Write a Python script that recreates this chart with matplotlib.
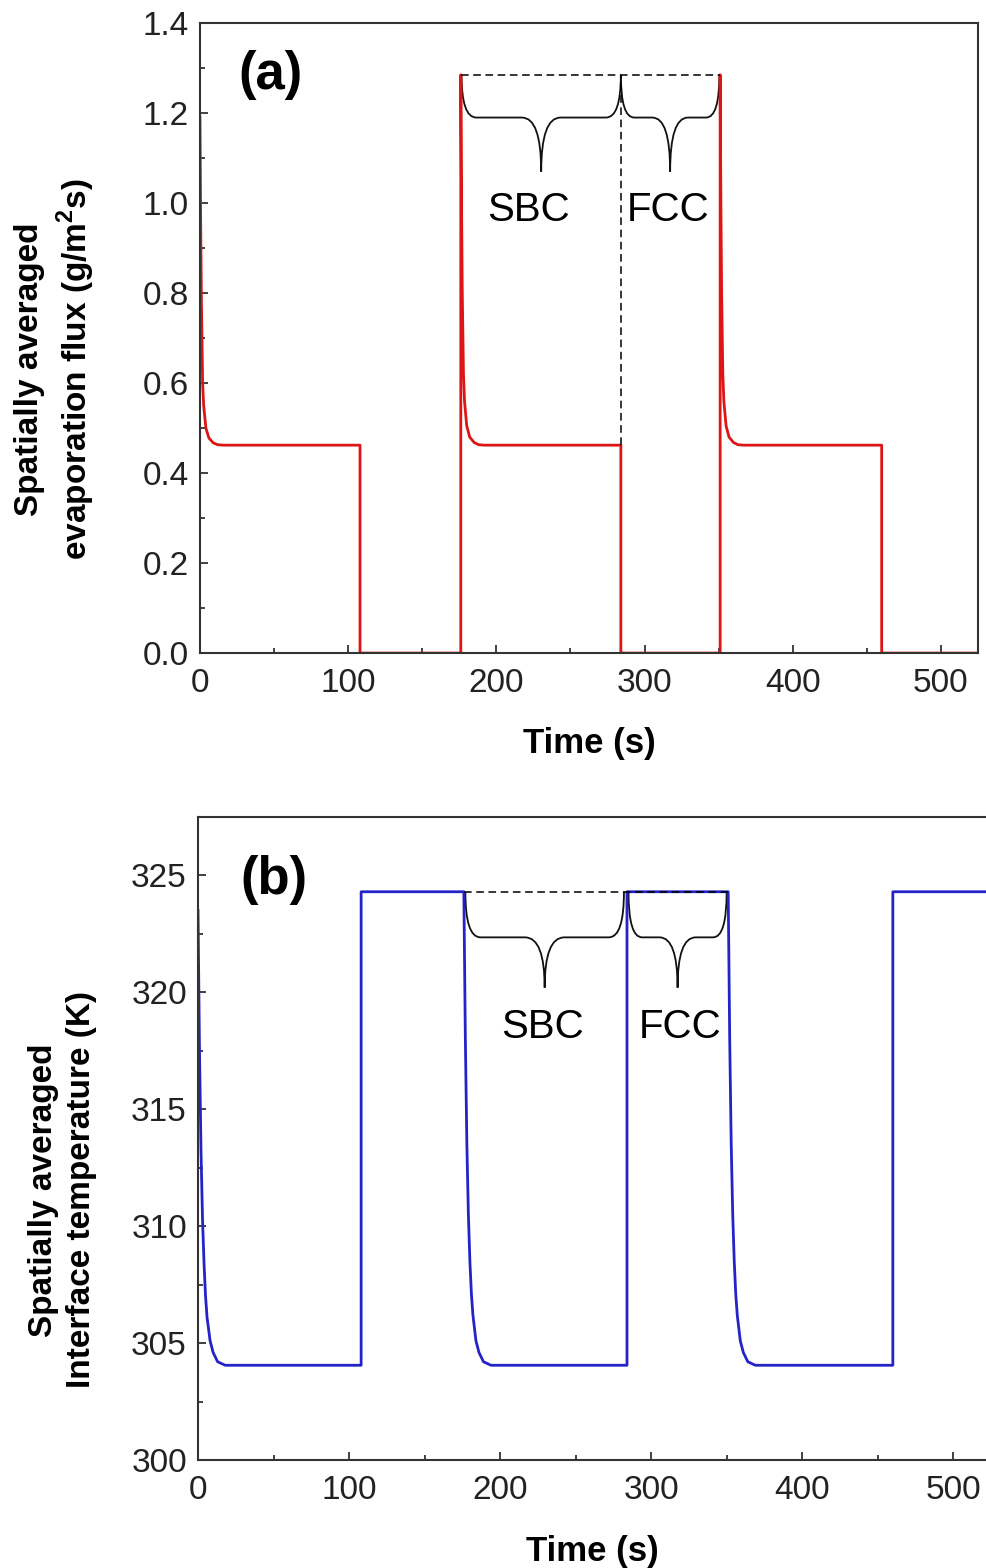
import matplotlib

matplotlib.use("Agg")
import matplotlib.pyplot as plt
from matplotlib.patches import PathPatch
from matplotlib.path import Path
from matplotlib.ticker import FormatStrFormatter, MultipleLocator

plt.rcParams["font.family"] = ["Liberation Sans", "DejaVu Sans"]
plt.rcParams["mathtext.fontset"] = "custom"
plt.rcParams["mathtext.rm"] = "Liberation Sans"
plt.rcParams["mathtext.bf"] = "Liberation Sans:bold"

# switching instants of the heating cycle (s)
SBC_START = 176.0
SWITCH = 284.0
FCC_END = 351.0

# spatially averaged evaporation flux (g/m^2 s)
flux_time = [0, 0.5, 1, 1.8, 2.5, 4, 6, 9, 12, 16, 108, 108,
             176, 176, 176.5, 177, 177.8, 178.5, 180, 182, 185, 188, 192, 284, 284,
             351, 351, 351.5, 352, 352.8, 353.5, 355, 357, 360, 363, 367, 460, 460,
             525]
flux = [1.19, 0.95, 0.78, 0.60, 0.55, 0.50, 0.478, 0.467, 0.463, 0.462, 0.462, 0.0,
        0.0, 1.285, 1.0, 0.80, 0.62, 0.56, 0.505, 0.48, 0.468, 0.463, 0.462, 0.462, 0.0,
        0.0, 1.285, 1.0, 0.80, 0.62, 0.56, 0.505, 0.48, 0.468, 0.463, 0.462, 0.462, 0.0,
        0.0]

# spatially averaged interface temperature (K)
temp_time = [0, 1, 2, 3, 4, 5, 6, 8, 10, 13, 18, 108, 108,
             176, 177, 178, 179, 180, 181, 182, 184, 186, 189, 194, 284, 284,
             351, 352, 353, 354, 355, 356, 357, 359, 361, 364, 369, 460, 460,
             525]
temp = [323.5, 317.5, 313.2, 310.3, 308.4, 307.0, 306.1, 305.1, 304.6, 304.2, 304.05, 304.05, 324.3,
        324.3, 318.0, 313.5, 310.5, 308.5, 307.1, 306.2, 305.1, 304.6, 304.2, 304.05, 304.05, 324.3,
        324.3, 318.0, 313.5, 310.5, 308.5, 307.1, 306.2, 305.1, 304.6, 304.2, 304.05, 304.05, 324.3,
        324.3]

RED = "#dd1515"
BLUE = "#2323c8"
SPINE = "#333333"


def draw_brace(ax, x0, x1, y_top, y_flat, y_tip, arm=10.0, cusp=12.0):
    xm = 0.5 * (x0 + x1)
    verts = [
        (x0, y_top),
        (x0, y_flat), (x0 + arm, y_flat),
        (xm - cusp, y_flat),
        (xm, y_flat), (xm, y_tip),
        (xm, y_flat), (xm + cusp, y_flat),
        (x1 - arm, y_flat),
        (x1, y_flat), (x1, y_top),
    ]
    codes = [Path.MOVETO,
             Path.CURVE3, Path.CURVE3,
             Path.LINETO,
             Path.CURVE3, Path.CURVE3,
             Path.CURVE3, Path.CURVE3,
             Path.LINETO,
             Path.CURVE3, Path.CURVE3]
    ax.add_patch(PathPatch(Path(verts, codes), fill=False, lw=1.3, color="#111111"))


def style_axes(ax, ymajor, yminor):
    ax.xaxis.set_major_locator(MultipleLocator(100))
    ax.xaxis.set_minor_locator(MultipleLocator(50))
    ax.yaxis.set_major_locator(MultipleLocator(ymajor))
    ax.yaxis.set_minor_locator(MultipleLocator(yminor))
    ax.tick_params(which="both", direction="in", top=False, right=False,
                   colors=SPINE, labelcolor="#222222", labelsize=24, width=1.3)
    ax.tick_params(which="major", length=6)
    ax.tick_params(which="minor", length=3.5)
    ax.tick_params(axis="x", pad=11)
    ax.tick_params(axis="y", pad=8)
    for sp in ax.spines.values():
        sp.set_color(SPINE)
        sp.set_linewidth(1.5)


fig = plt.figure(figsize=(9.86, 15.68), dpi=100)

# (a) evaporation flux
ax1 = fig.add_axes([0.2028, 0.5835, 0.7891, 0.4018])
ax1.plot(flux_time, flux, color=RED, lw=2.0)
ax1.set_xlim(0, 525)
ax1.set_ylim(0, 1.4)
style_axes(ax1, 0.2, 0.1)
ax1.yaxis.set_major_formatter(FormatStrFormatter("%.1f"))

peak = max(flux)
plateau = flux[-5]
ax1.plot([SBC_START, FCC_END], [peak, peak], "k--", lw=1.1, dashes=(5, 3))
ax1.plot([SWITCH, SWITCH], [plateau, peak], "k--", lw=1.1, dashes=(5, 3))
draw_brace(ax1, SBC_START + 0.5, SWITCH, peak, 1.19, 1.07, arm=10, cusp=13)
draw_brace(ax1, SWITCH, FCC_END - 0.5, peak, 1.19, 1.07, arm=9, cusp=12)
ax1.text(222, 0.985, "SBC", fontsize=29, ha="center", va="center")
ax1.text(316, 0.985, "FCC", fontsize=29, ha="center", va="center")
ax1.text(0.05, 0.917, "(a)", transform=ax1.transAxes, fontsize=38,
         fontweight="bold", ha="left", va="center")

ax1.set_xlabel("Time (s)", fontsize=25, fontweight="bold")
ax1.set_ylabel("Spatially averaged\nevaporation flux (g/m$^{\\mathbf{2}}$s)",
               fontsize=24, fontweight="bold", linespacing=1.3)
ax1.xaxis.set_label_coords(0.50, -0.117)
ax1.yaxis.set_label_coords(-0.132, 0.45)

# (b) interface temperature
ax2 = fig.add_axes([0.2008, 0.0689, 0.8043, 0.4101])
ax2.plot(temp_time, temp, color=BLUE, lw=2.0)
ax2.set_xlim(0, 525)
ax2.set_ylim(300, 327.5)
style_axes(ax2, 5, 2.5)

hot = max(temp)
ax2.plot([SBC_START, FCC_END], [hot, hot], "k--", lw=1.1, dashes=(5, 3))
draw_brace(ax2, SBC_START + 1, SWITCH - 2, hot, 322.35, 320.2, arm=10, cusp=13)
draw_brace(ax2, SWITCH + 1, FCC_END - 1, hot, 322.35, 320.2, arm=9, cusp=12)
ax2.text(228, 318.5, "SBC", fontsize=29, ha="center", va="center")
ax2.text(319, 318.5, "FCC", fontsize=29, ha="center", va="center")
ax2.text(0.053, 0.902, "(b)", transform=ax2.transAxes, fontsize=38,
         fontweight="bold", ha="left", va="center")

ax2.set_xlabel("Time (s)", fontsize=25, fontweight="bold")
ax2.set_ylabel("Spatially averaged\nInterface temperature (K)",
               fontsize=24, fontweight="bold", linespacing=1.3)
ax2.xaxis.set_label_coords(0.497, -0.117)
ax2.yaxis.set_label_coords(-0.127, 0.42)

fig.savefig("out.png", dpi=100)
